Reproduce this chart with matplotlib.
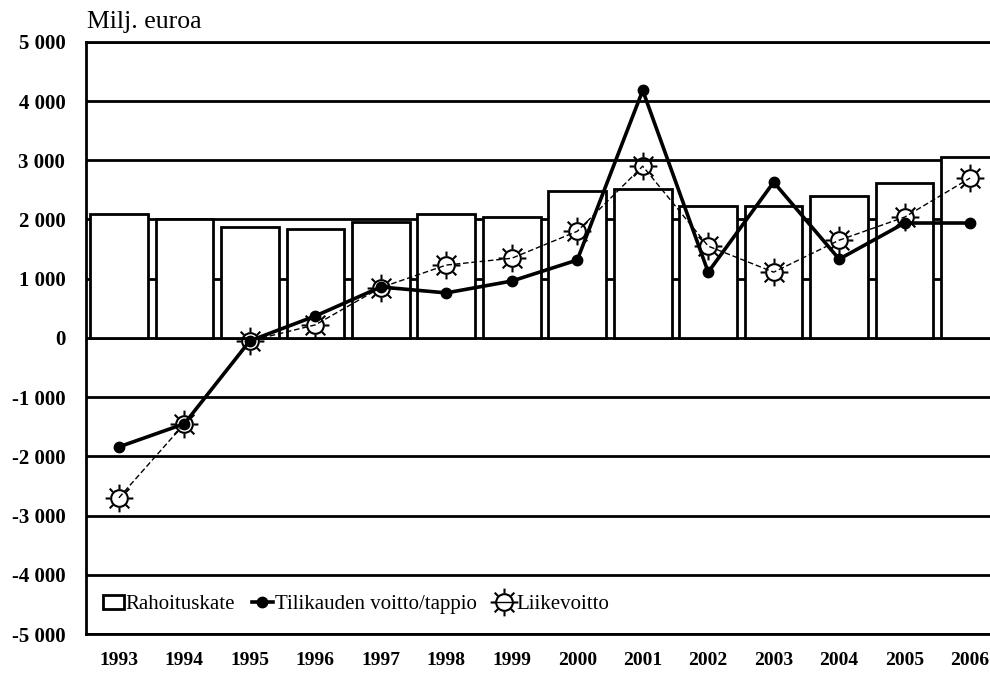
import numpy as np
import matplotlib
matplotlib.use('Agg')
import matplotlib.pyplot as plt
from matplotlib.path import Path
from matplotlib.patches import Patch
from matplotlib.lines import Line2D
from matplotlib.ticker import FuncFormatter

plt.rcParams['font.family'] = ['Liberation Serif', 'DejaVu Serif']

years = ['1993', '1994', '1995', '1996', '1997', '1998', '1999',
         '2000', '2001', '2002', '2003', '2004', '2005', '2006']
rahoituskate = [2100, 2010, 1870, 1840, 1960, 2100, 2040,
                2480, 2510, 2225, 2225, 2395, 2615, 3050]
tilikauden_tulos = [-1840, -1450, -50, 370, 860, 760, 960,
                    1315, 4180, 1110, 2630, 1330, 1940, 1940]
liikevoitto = [-2700, -1450, -50, 220, 850, 1230, 1345,
               1800, 2900, 1550, 1110, 1650, 2040, 2700]

# aurinko-merkki: ympyra + 8 sadetta
rays = []
for a in np.arange(8) * np.pi / 4:
    rays.append(Path([(0.68 * np.cos(a), 0.68 * np.sin(a)),
                      (1.0 * np.cos(a), 1.0 * np.sin(a))],
                     [Path.MOVETO, Path.LINETO]))
sun = Path.make_compound_path(Path.circle((0, 0), 0.6), *rays)

fig = plt.figure(figsize=(9.9, 6.74), dpi=100)
ax = fig.add_axes([0.087, 0.0593, 0.926, 0.8787])

x = np.arange(len(years))
ax.set_axisbelow(True)
ax.yaxis.grid(True, color='black', linewidth=2)
ax.bar(x, rahoituskate, width=0.88, color='white', edgecolor='black',
       linewidth=2, zorder=2)
ax.plot(x, liikevoitto, color='black', linewidth=1, linestyle=(0, (4, 2)),
        marker=sun, markersize=20, markerfacecolor='none',
        markeredgecolor='black', markeredgewidth=1.5, zorder=3)
ax.plot(x, tilikauden_tulos, color='black', linewidth=2.6, marker='o',
        markersize=7.5, zorder=4)

ax.set_xlim(-0.5, len(years) - 0.5)
ax.set_ylim(-5000, 5000)
ax.set_yticks(np.arange(-5000, 5001, 1000))
ax.yaxis.set_major_formatter(FuncFormatter(lambda v, p: '{:,.0f}'.format(v).replace(',', ' ')))
ax.set_xticks(x)
ax.set_xticklabels(years)
ax.tick_params(axis='y', length=0, pad=15, labelsize=15)
ax.tick_params(axis='x', length=0, pad=13, labelsize=14)
for t in ax.get_xticklabels() + ax.get_yticklabels():
    t.set_fontweight('bold')

for s in ax.spines.values():
    s.set_linewidth(2)
ax.spines['right'].set_visible(False)

fig.text(0.088, 0.968, 'Milj. euroa', fontsize=18.5, va='center', ha='left')

handles = [
    Patch(facecolor='white', edgecolor='black', linewidth=2),
    Line2D([], [], color='black', linewidth=2.6, marker='o', markersize=7.5),
    Line2D([], [], color='black', linewidth=1, marker=sun, markersize=20,
           markerfacecolor='none', markeredgewidth=1.5),
]
ax.legend(handles, ['Rahoituskate', 'Tilikauden voitto/tappio', 'Liikevoitto'],
          loc='center left', bbox_to_anchor=(0.0, 0.05), ncol=3, frameon=False,
          fontsize=15, handlelength=1.0, handletextpad=0.1, columnspacing=0.8,
          borderaxespad=0.4)

fig.savefig('out.png', dpi=100)
